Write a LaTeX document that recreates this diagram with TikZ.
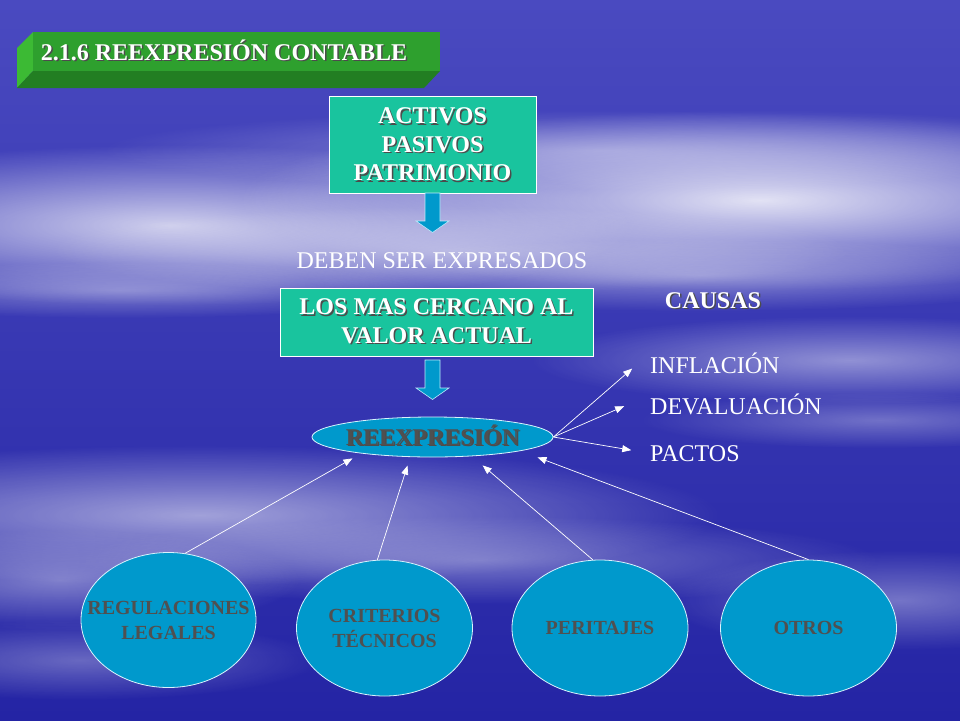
\documentclass[tikz,border=0pt]{standalone}
\usepackage{fontspec}
\setmainfont{Liberation Serif}
\usetikzlibrary{arrows.meta,shapes.geometric,fadings}
\definecolor{fondoA}{RGB}{74,74,192}
\definecolor{fondoB}{RGB}{46,46,172}
\definecolor{fondoC}{RGB}{36,36,164}
\definecolor{verdecaja}{RGB}{25,196,158}
\definecolor{azulflecha}{RGB}{0,153,204}
\definecolor{gristexto}{RGB}{80,80,80}
\definecolor{verdetitulo}{RGB}{46,160,46}
\definecolor{verdeclaro}{RGB}{60,186,52}
\definecolor{verdeoscuro}{RGB}{34,126,34}
\tikzfading[name=halo, inner color=transparent!0, outer color=transparent!100]
\newcommand{\sh}[1]{\makebox[0pt][l]{\kern1.5pt\raisebox{-1.5pt}{\color{black!70}#1}}#1}
\tikzset{
    caja/.style={draw=white, line width=0.8pt, fill=verdecaja, text=white, align=center,
      font=\bfseries\fontsize{24}{28.5}\selectfont, inner sep=0pt},
    ovalo/.style={ellipse, draw=white!85!cyan, line width=0.8pt, fill=azulflecha, inner sep=0pt},
    ovaltexto/.style={text=gristexto, align=center, font=\bfseries\fontsize{20}{25}\selectfont},
    texto/.style={text=white, font=\fontsize{24}{28}\selectfont, text height=16pt, text depth=0pt, inner sep=2pt},
    negrita/.style={font=\bfseries\fontsize{24}{28}\selectfont},
    enlace/.style={draw=white, line width=0.7pt, -{Triangle[length=9pt,width=7pt]}},
    flecha/.pic={
      \filldraw[fill=azulflecha, draw=cyan!25!white, line width=0.6pt]
        (-7.5,0) -- (-7.5,28) -- (-16.5,28) -- (0,39.5) -- (16.5,28) -- (7.5,28) -- (7.5,0) -- cycle;
    },
  }

\begin{document}
\begin{tikzpicture}[x=1pt,y=-1pt]
                                  %fondo con nubes
                                  \useasboundingbox (0,0) rectangle (960,720);
                                  \shade [top color=fondoA, middle color=fondoB, bottom color=fondoC] (0,0) rectangle (960,720);
                                  \foreach \cx/\cy/\rx/\ry/\op in {170/225/230/40/0.75, 760/200/260/45/0.85, 450/250/200/22/0.45,
                                      120/290/160/14/0.35, 700/275/200/18/0.4, 600/150/250/20/0.35, 850/360/160/22/0.45,
                                      880/420/120/14/0.3, 200/515/260/35/0.55, 480/560/200/22/0.35, 60/580/120/25/0.4,
                                      900/600/120/25/0.35, 80/660/120/20/0.3}
                                    \fill [white, opacity=\op, path fading=halo] (\cx,\cy) ellipse [x radius=2*\rx, y radius=2*\ry];
                                  %titulo
                                  \fill [verdeclaro] (17,48) -- (33,32) -- (33,71) -- (17,88) -- cycle;
                                  \fill [verdeoscuro] (17,88) -- (33,71) -- (440,71) -- (424,88) -- cycle;
                                  \fill [verdetitulo] (33,32) rectangle (440,71);
                                  \node [texto, negrita] (tit) at (224,52) {\sh{2.1.6 REEXPRESIÓN CONTABLE}};
                                  %cajas
                                  \node [caja, minimum width=207pt, minimum height=97pt] (act) at (432.5,145) {\sh{ACTIVOS}\\\sh{PASIVOS}\\\sh{PATRIMONIO}};
                                  \pic at (432.5,193) {flecha};
                                  \node [texto] (deb) at (442,260) {DEBEN SER EXPRESADOS};
                                  \node [caja, minimum width=313pt, minimum height=68pt] (los) at (436.5,322) {\sh{LOS MAS CERCANO AL}\\\sh{VALOR ACTUAL}};
                                  \pic at (432.5,360) {flecha};
                                  \node [ovalo, minimum width=241pt, minimum height=40pt] (reex) at (432.5,437) {};
                                  \node [texto, negrita, text=gristexto] at (reex) {\sh{REEXPRESIÓN}};
                                  %causas
                                  \node [texto, negrita] (cau) at (713,300) {\sh{CAUSAS}};
                                  \node [texto, anchor=west] (inf) at (648,365) {INFLACIÓN};
                                  \node [texto, anchor=west] (dev) at (648,406) {DEVALUACIÓN};
                                  \node [texto, anchor=west] (pac) at (648,453) {PACTOS};
                                  \draw [enlace, shorten >=21pt] (reex.east) -- (inf.north west);
                                  \draw [enlace, shorten >=26pt] (reex.east) -- (dev.north west);
                                  \draw [enlace, shorten >=17pt] (reex.east) -- (pac.west);
                                  %fuentes
                                  \node [ovalo, minimum width=175pt, minimum height=135pt] (reg) at (168.5,620) {};
                                  \node [ovaltexto] at (reg) {REGULACIONES\\LEGALES};
                                  \node [ovalo, minimum width=176pt, minimum height=136pt] (cri) at (384.5,628) {};
                                  \node [ovaltexto] at (cri) {CRITERIOS\\TÉCNICOS};
                                  \node [ovalo, minimum width=176pt, minimum height=136pt] (per) at (600,628) {};
                                  \node [ovaltexto] at (per) {PERITAJES};
                                  \node [ovalo, minimum width=176pt, minimum height=136pt] (otr) at (808.5,628) {};
                                  \node [ovaltexto] at (otr) {OTROS};
                                  \draw [enlace, shorten >=10pt] (reg.76) -- (reex.193);
                                  \draw [enlace, shorten >=9pt] (cri.96) -- (reex.222);
                                  \draw [enlace, shorten >=14pt] (per.96) -- (reex.334);
                                  \draw [enlace, shorten >=18pt] (otr.north) -- (reex.351);
\end{tikzpicture}
\end{document}
